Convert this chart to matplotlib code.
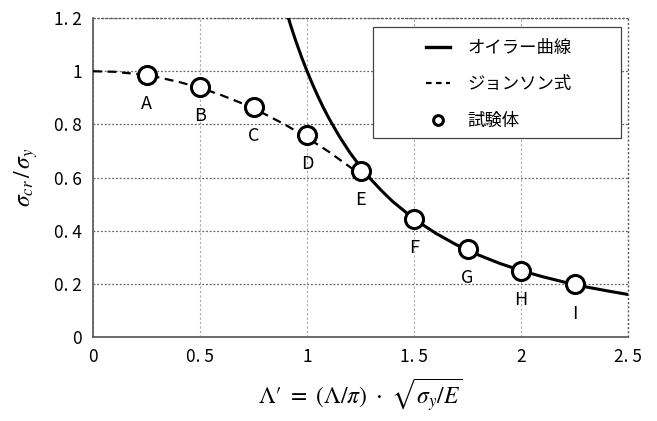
import numpy as np
import matplotlib
matplotlib.use("Agg")
import matplotlib.pyplot as plt
from matplotlib.lines import Line2D
from matplotlib.patches import Rectangle

plt.rcParams["font.family"] = ["Noto Sans CJK JP", "DejaVu Sans"]
plt.rcParams["mathtext.fontset"] = "stix"

# Euler curve
euler_x = [0.913, 0.93, 0.95, 0.975, 1.0, 1.025, 1.05, 1.075, 1.1, 1.15, 1.2, 1.25, 1.3, 1.35,
           1.4, 1.5, 1.6, 1.7, 1.8, 1.9, 2.0, 2.1, 2.2, 2.3, 2.4, 2.5]
euler_y = [1.20, 1.156, 1.108, 1.052, 1.00, 0.952, 0.907, 0.865, 0.826, 0.756, 0.694, 0.640,
           0.592, 0.549, 0.510, 0.444, 0.391, 0.346, 0.309, 0.277, 0.250, 0.227, 0.207,
           0.189, 0.174, 0.160]
# Johnson formula (dashed)
johnson_x = [0.0, 0.1, 0.2, 0.3, 0.4, 0.5, 0.6, 0.7, 0.8, 0.9, 1.0, 1.1, 1.2, 1.25]
johnson_y = [1.0, 0.998, 0.99, 0.978, 0.96, 0.938, 0.91, 0.878, 0.84, 0.798, 0.75, 0.698,
             0.64, 0.61]
# specimens
spec_names = ["A", "B", "C", "D", "E", "F", "G", "H", "I"]
spec_x = [0.25, 0.5, 0.75, 1.0, 1.25, 1.5, 1.75, 2.0, 2.25]
spec_y = [0.985, 0.94, 0.865, 0.76, 0.625, 0.445, 0.33, 0.25, 0.198]

fig = plt.figure(figsize=(6.57, 4.21), dpi=100)
ax = fig.add_axes([0.1416, 0.1995, 0.8144, 0.7575])

ax.plot(euler_x, euler_y, "-", color="black", lw=2.2, zorder=3)
ax.plot(johnson_x, johnson_y, color="black", lw=1.6, ls=(0, (4, 2.5)), zorder=3)
ax.plot(spec_x, spec_y, "o", ms=13, mfc="white", mec="black", mew=2.2, zorder=4)
for n, x, y in zip(spec_names, spec_x, spec_y):
    ax.annotate(n, (x, y), xytext=(0, -21), textcoords="offset points",
                ha="center", va="center", fontsize=13)

ax.set_xlim(0, 2.5)
ax.set_ylim(0, 1.2)
ax.set_xticks([0, 0.5, 1, 1.5, 2, 2.5])
ax.set_xticklabels(["0", "0. 5", "1", "1. 5", "2", "2. 5"])
ax.set_yticks([0, 0.2, 0.4, 0.6, 0.8, 1.0, 1.2])
ax.set_yticklabels(["0", "0. 2", "0. 4", "0. 6", "0. 8", "1", "1. 2"])
ax.tick_params(length=0, labelsize=12.5, pad=8)
ax.xaxis.grid(True, color="#aaaaaa", ls=(0, (2, 2)), lw=0.8)
ax.yaxis.grid(True, color="#666666", ls=(0, (1.5, 1.5)), lw=0.9)
for s in ("top", "right"):
    ax.spines[s].set_visible(False)
for s in ("left", "bottom"):
    ax.spines[s].set_color("#555555")
    ax.spines[s].set_linewidth(1.2)
ax.axhline(1.2, color="#555555", ls=(0, (1.5, 1.5)), lw=1.0, clip_on=False)
ax.axvline(2.5, color="#555555", ls=(0, (1.5, 1.5)), lw=1.0, clip_on=False)

ax.set_xlabel(r"$\Lambda\prime\ =\ (\Lambda/\pi)\ \cdot\ \sqrt{\sigma_y/E}$", fontsize=17, labelpad=8)
ax.set_ylabel(r"$\sigma_{cr}\,/\,\sigma_y$", fontsize=17, labelpad=10)

# legend: manual frame, entries placed with the legend machinery
ax.add_patch(Rectangle((0.523, 0.624), 0.464, 0.348, transform=ax.transAxes,
                       facecolor="white", edgecolor="#444444", lw=0.9, zorder=5))
handles = [Line2D([], [], color="black", lw=2.4),
           Line2D([], [], color="black", lw=1.6, ls=(0, (2.5, 2))),
           Line2D([], [], ls="none", marker="o", ms=7, mfc="white", mec="black", mew=2.2)]
leg = ax.legend(handles, ["オイラー曲線", "ジョンソン式", "試験体"], loc="upper left",
                bbox_to_anchor=(0.612, 0.95), fontsize=12.5, frameon=False,
                labelspacing=1.05, handlelength=1.4, handletextpad=1.0, borderpad=0.3,
                borderaxespad=0)
leg.set_zorder(6)

fig.savefig("out.png", dpi=100, facecolor="white")
